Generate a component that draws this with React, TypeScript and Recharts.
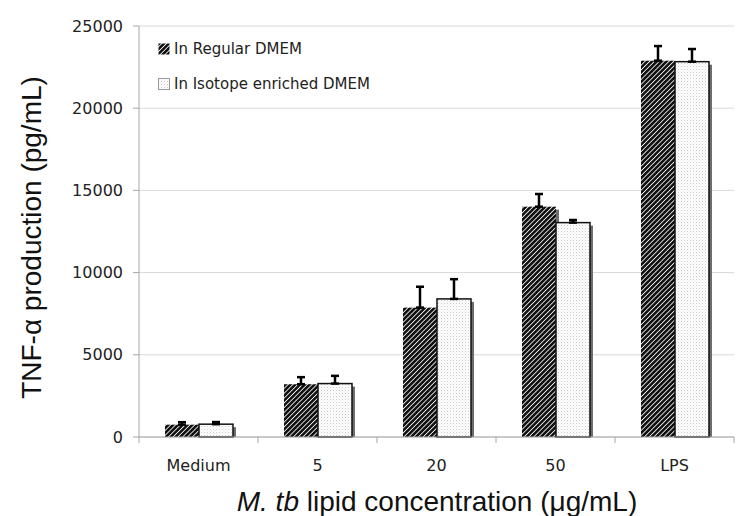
import { BarChart, Bar, XAxis, YAxis, CartesianGrid, ErrorBar, Label } from 'recharts';

const categories = ['Medium', '5', '20', '50', 'LPS'];
const regular = [750, 3210, 7870, 14010, 22890];
const regularErr = [150, 430, 1270, 770, 890];
const isotope = [780, 3250, 8400, 13040, 22830];
const isotopeErr = [130, 470, 1200, 160, 770];
const yTicks = [0, 5000, 10000, 15000, 20000, 25000];
const legendItems = [
  { label: 'In Regular DMEM', kind: 'hatch' },
  { label: 'In Isotope enriched DMEM', kind: 'dots' },
];

const W = 750;
const H = 516;
const X_H = 30;
const M = { top: 26, right: 16, left: 0, bottom: 49 };
const Y_W = 139;
const band = (W - M.left - M.right - Y_W) / categories.length;
const plotBottom = H - M.bottom - X_H;

const data = categories.map((c, i) => ({
  name: c,
  regular: regular[i],
  regErr: [0, regularErr[i]],
  isotope: isotope[i],
  isoErr: [0, isotopeErr[i]],
}));

const FONT = '"DejaVu Sans", Verdana, sans-serif';
const TITLE_FONT = '"Liberation Sans", Arial, sans-serif';

function Patterns({ prefix }: { prefix: string }) {
  return (
    <defs>
      <pattern id={`${prefix}hatch`} width="3.4" height="3.4" patternUnits="userSpaceOnUse" patternTransform="rotate(45)">
        <rect width="3.4" height="3.4" fill="#fff" />
        <rect width="2.6" height="3.4" fill="#111" />
      </pattern>
      <pattern id={`${prefix}dots`} width="3" height="3" patternUnits="userSpaceOnUse">
        <rect width="3" height="3" fill="#fff" />
        <rect width="1" height="1" fill="#c8c8c8" />
        <rect x="1.5" y="1.5" width="1" height="1" fill="#dcdcdc" />
      </pattern>
    </defs>
  );
}

const barShape = (kind: 'hatch' | 'dots') => (p: any) => {
  const { x, y, width, height } = p;
  if (!height || height <= 0) return <g />;
  return (
    <g>
      <rect x={x + width} y={y + 3} width={3} height={height - 3} fill="#6e6e6e" />
      <rect x={x} y={y} width={width} height={height} fill={`url(#c${kind})`}
        stroke={kind === 'dots' ? '#111' : 'none'} strokeWidth={1.5} />
    </g>
  );
};

function XTick(p: any) {
  const { x, payload, index } = p;
  const half = band / 2;
  return (
    <g>
      <line x1={x - half} y1={plotBottom} x2={x - half} y2={plotBottom + 6} stroke="#a6a6a6" />
      {index === categories.length - 1 && (
        <line x1={x + half} y1={plotBottom} x2={x + half} y2={plotBottom + 6} stroke="#a6a6a6" />
      )}
      <text x={x} y={plotBottom + 34} textAnchor="middle" fontSize={16} fontFamily={FONT} fill="#222">
        {payload.value}
      </text>
    </g>
  );
}

function LegendBox() {
  return (
    <div style={{ position: 'absolute', left: 158, top: 31, fontFamily: FONT, fontSize: 15, color: '#222' }}>
      {legendItems.map((it) => (
        <div key={it.label} style={{ display: 'flex', alignItems: 'center', height: 35 }}>
          <svg width={12} height={12} style={{ marginRight: 4 }}>
            <Patterns prefix="l" />
            <rect x={0.5} y={0.5} width={11} height={11} fill={`url(#l${it.kind})`}
              stroke={it.kind === 'dots' ? '#999' : 'none'} />
          </svg>
          <span>{it.label}</span>
        </div>
      ))}
    </div>
  );
}

export default function App() {
  return (
    <div style={{ position: 'relative', width: W, height: H, background: '#fff' }}>
      <style>{'body{margin:0}'}</style>
      <BarChart width={W} height={H} data={data} margin={M} barGap={0} barSize={34}>
        <Patterns prefix="c" />
        <CartesianGrid vertical={false} stroke="#d9d9d9" />
        <XAxis dataKey="name" height={X_H} axisLine={{ stroke: '#a6a6a6' }} tickLine={false} tick={<XTick />} interval={0}>
          <Label
            content={() => (
              <text x={437} y={H - 5} textAnchor="middle" fontSize={28} fontFamily={TITLE_FONT} fill="#111">
                <tspan fontStyle="italic">M. tb</tspan> lipid concentration (μg/mL)
              </text>
            )}
          />
        </XAxis>
        <YAxis
          width={Y_W}
          domain={[0, 25000]}
          ticks={yTicks}
          interval={0}
          axisLine={{ stroke: '#a6a6a6' }}
          tickLine={{ stroke: '#a6a6a6' }}
          tickSize={6}
          tickMargin={10}
          tick={{ fontSize: 16, fontFamily: FONT, fill: '#222' }}
        >
          <Label
            content={(lp: any) => {
              const vb = lp.viewBox || { y: M.top, height: 411 };
              const cy = vb.y + vb.height / 2 + 6;
              return (
                <text x={41} y={cy} transform={`rotate(-90 41 ${cy})`} textAnchor="middle"
                  fontSize={28} fontFamily={TITLE_FONT} fill="#111">
                  TNF-α production (pg/mL)
                </text>
              );
            }}
          />
        </YAxis>
        <Bar dataKey="regular" isAnimationActive={false} shape={barShape('hatch')}>
          <ErrorBar dataKey="regErr" width={4} stroke="#000" strokeWidth={2.5} direction="y" />
        </Bar>
        <Bar dataKey="isotope" isAnimationActive={false} shape={barShape('dots')}>
          <ErrorBar dataKey="isoErr" width={4} stroke="#000" strokeWidth={2.5} direction="y" />
        </Bar>
      </BarChart>
      <LegendBox />
    </div>
  );
}
